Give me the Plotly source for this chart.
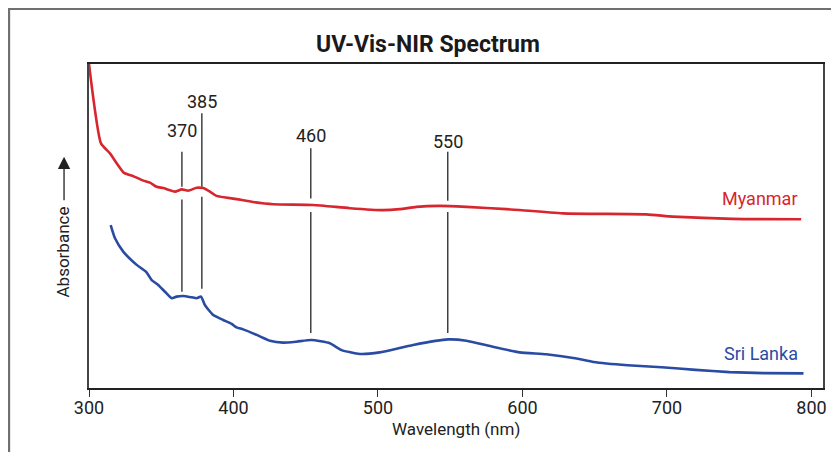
import plotly.graph_objects as go

# ---- data (wavelength in nm, absorbance in arbitrary units) ----
myanmar_wl = [300.0, 308.3, 314.5, 324.2, 330.6, 337.6, 342.2, 346.8, 351.4, 359.5,
              364.1, 368.7, 374.5, 379.0, 383.7, 388.3, 402.1, 413.6, 427.5, 455.1,
              480.5, 503.5, 515.1, 526.6, 542.7, 561.2, 588.9, 628.0, 685.7, 704.1,
              745.4, 792.9]
myanmar_abs = [100.0, 75.5, 72.4, 66.4, 65.4, 64.0, 63.4, 62.1, 61.7, 60.6,
               61.3, 60.9, 61.8, 61.7, 60.6, 59.3, 58.3, 57.4, 56.7, 56.5,
               55.5, 54.9, 55.2, 55.9, 56.2, 55.9, 55.2, 53.9, 53.6, 52.9,
               52.2, 52.1]

srilanka_wl = [315.0, 318.0, 323.7, 333.0, 339.4, 343.4, 347.9, 352.6, 357.2, 360.6,
               365.2, 371.0, 374.5, 377.5, 380.2, 386.0, 392.9, 398.7, 402.1, 406.7,
               416.0, 425.2, 434.4, 443.6, 454.0, 466.7, 474.8, 487.4, 501.2, 524.3,
               548.5, 561.2, 579.6, 598.1, 616.5, 637.5, 649.2, 672.8, 696.3, 719.8,
               743.3, 766.8, 794.5]
srilanka_abs = [50.3, 46.2, 42.1, 38.0, 35.9, 33.3, 31.8, 29.7, 27.7, 28.2,
                28.4, 28.0, 27.7, 28.2, 25.6, 22.5, 21.0, 19.8, 18.7, 18.1,
                16.4, 14.6, 14.0, 14.3, 14.8, 13.8, 11.7, 10.5, 11.0, 13.3,
                15.0, 14.6, 12.7, 11.0, 10.4, 9.1, 8.0, 7.0, 6.4, 5.6,
                4.9, 4.6, 4.5]

peak_labels = ["370", "385", "460", "550"]
peak_x = [364.3, 378.1, 453.5, 548.3]
# upper segment (above Myanmar curve) and lower segment (between the curves)
peak_upper = [(62.1, 72.9), (62.1, 84.8), (58.5, 74.0), (57.8, 72.9)]
peak_lower = [(29.7, 58.2), (30.6, 59.0), (17.0, 54.3), (17.0, 54.3)]
peak_label_y = [79.6, 88.4, 77.8, 76.2]

x_ticks = [300, 400, 500, 600, 700, 800]

RED = "#d7262e"
BLUE = "#2a4ba3"
FONT = "Roboto, Liberation Sans, Arial, sans-serif"

fig = go.Figure()
fig.add_trace(go.Scatter(x=myanmar_wl, y=myanmar_abs, mode="lines",
                         line=dict(color=RED, width=2.6, shape="spline", smoothing=0.5),
                         name="Myanmar", hoverinfo="skip"))
fig.add_trace(go.Scatter(x=srilanka_wl, y=srilanka_abs, mode="lines",
                         line=dict(color=BLUE, width=2.6, shape="spline", smoothing=0.5),
                         name="Sri Lanka", hoverinfo="skip"))

shapes = []
annotations = []
for lab, xv, up, lo, ly in zip(peak_labels, peak_x, peak_upper, peak_lower, peak_label_y):
    for seg in (up, lo):
        shapes.append(dict(type="line", xref="x", yref="y", x0=xv, x1=xv, y0=seg[0], y1=seg[1],
                           line=dict(color="#333333", width=1.4)))
    annotations.append(dict(x=xv, y=ly, xref="x", yref="y", text=lab, showarrow=False,
                            font=dict(family=FONT, size=18, color="#222222"),
                            xanchor="center", yanchor="middle"))

# outer gray frame (partially outside the image)
shapes.append(dict(type="rect", xref="paper", yref="paper", x0=-0.1089, x1=1.2, y0=-0.5, y1=1.1698,
                   line=dict(color="#707070", width=2.2), fillcolor="rgba(0,0,0,0)", layer="below"))

# series labels
annotations.append(dict(x=792, y=58.5, xref="x", yref="y", text="Myanmar", showarrow=False,
                        font=dict(family=FONT, size=18, color=RED), xanchor="right", yanchor="middle"))
annotations.append(dict(x=792, y=10.6, xref="x", yref="y", text="Sri Lanka", showarrow=False,
                        font=dict(family=FONT, size=18, color=BLUE), xanchor="right", yanchor="middle"))

# y-axis label with arrow
annotations.append(dict(x=-0.036, y=0.42, xref="paper", yref="paper", text="Absorbance",
                        textangle=-90, showarrow=False,
                        font=dict(family=FONT, size=17, color="#222222"),
                        xanchor="center", yanchor="middle"))
annotations.append(dict(x=-0.034, y=0.714, xref="paper", yref="paper", text="",
                        showarrow=True, ax=0, ay=45, arrowhead=2, arrowsize=1.9,
                        arrowwidth=1.3, arrowcolor="#222222", standoff=0, startstandoff=0))

# x-axis title
annotations.append(dict(x=0.5, y=-0.128, xref="paper", yref="paper", text="Wavelength (nm)",
                        showarrow=False, font=dict(family=FONT, size=17, color="#222222"),
                        xanchor="center", yanchor="middle"))

# the page body adds an 8px offset; size the figure so the plot lands where it should
fig.update_layout(
    width=831, height=444,
    margin=dict(l=81, r=15.5, t=56, b=64),
    paper_bgcolor="white", plot_bgcolor="white",
    showlegend=False,
    title=dict(text="<b>UV-Vis-NIR Spectrum</b>", x=(428 - 8) / 831, xanchor="center",
               y=1 - (43.5 - 8) / 444, yanchor="middle",
               font=dict(family=FONT, size=23, color="#1a1a1a")),
    shapes=shapes, annotations=annotations,
    xaxis=dict(range=[300, 808], tickvals=x_ticks, ticktext=[str(t) for t in x_ticks],
               ticks="outside", ticklen=7, tickwidth=1.3, tickcolor="#333333",
               ticklabelstandoff=-4,
               showline=True, linecolor="#222222", linewidth=1.5, mirror=True,
               showgrid=False, zeroline=False,
               tickfont=dict(family=FONT, size=18, color="#222222")),
    yaxis=dict(range=[0, 100], showticklabels=False, ticks="",
               showline=True, linecolor="#444444", linewidth=1.5, mirror=True,
               showgrid=False, zeroline=False),
)

fig.write_html("out.html")
